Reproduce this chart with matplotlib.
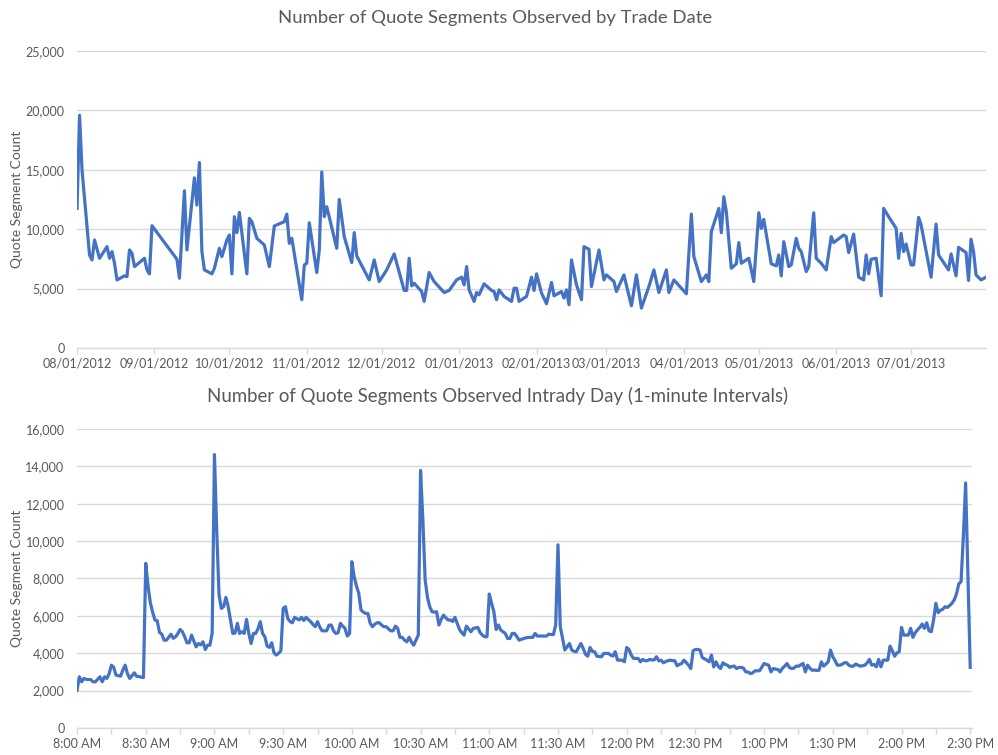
import datetime
import matplotlib
matplotlib.use('Agg')
import matplotlib.pyplot as plt
import matplotlib.dates as mdates
from matplotlib.ticker import FuncFormatter, MultipleLocator

plt.rcParams['font.family'] = ['Lato', 'DejaVu Sans']

# daily series: days since 08/01/2012 and quote segment counts
day_offsets = [
    0, 1, 2, 5, 6, 7, 9, 12, 13, 14, 15, 16, 19, 20, 21, 22, 23, 27, 28, 29,
    30, 40, 41, 43, 44, 47, 48, 49, 50, 51, 54, 55, 57, 58, 60, 61, 62, 63, 64, 65,
    68, 69, 70, 72, 75, 77, 79, 83, 84, 85, 86, 90, 91, 92, 93, 96, 97, 98, 99, 100,
    104, 105, 107, 110, 111, 112, 117, 119, 121, 124, 127, 131, 132, 133, 134, 135, 138, 139, 141, 143,
    147, 149, 152, 154, 155, 156, 157, 159, 160, 161, 163, 166, 167, 168, 169, 171, 174, 175, 176, 177,
    180, 182, 183, 184, 186, 188, 190, 191, 194, 195, 196, 197, 198, 200, 202, 203, 205, 206, 209, 211,
    212, 215, 216, 219, 222, 224, 226, 229, 231, 233, 236, 237, 239, 244, 246, 247, 250, 252, 253, 254,
    257, 258, 259, 260, 262, 264, 265, 266, 269, 271, 273, 274, 275, 278, 280, 281, 282, 283, 285, 286,
    288, 289, 290, 292, 293, 295, 296, 298, 300, 302, 303, 307, 308, 309, 311, 313, 315, 316, 317, 318,
    320, 322, 323, 325, 328, 329, 330, 331, 332, 334, 335, 337, 338, 342, 344, 345, 349, 350, 352, 353,
    356, 357, 358, 359, 360, 362, 364,
]
daily_counts = [
    11750, 19580, 14960, 7830, 7410, 9090, 7550, 8530, 7550, 8110, 7130, 5730, 6070, 6010, 8250, 7970, 6850, 7550, 6570, 6240,
    10290, 7470, 5870, 13230, 8250, 14320, 12030, 15610, 8110, 6570, 6240, 6710, 8390, 7690, 9090, 9510, 6240, 11050, 9710, 11410,
    6240, 10910, 10630, 9230, 8670, 6850, 10270, 10630, 11270, 8810, 9230, 4060, 6990, 7130, 10540, 6350, 8250, 14820, 11050, 11890,
    8390, 12500, 9370, 7190, 9710, 7750, 5730, 7410, 5590, 6570, 7920, 4840, 4840, 7550, 5230, 5450, 4750, 3920, 6350, 5590,
    4670, 4840, 5730, 5960, 5310, 6850, 4890, 3920, 4670, 4480, 5400, 4840, 4750, 4060, 4890, 4340, 3920, 5030, 5030, 3920,
    4340, 5960, 4840, 6240, 4620, 3720, 5510, 4390, 4750, 4200, 4890, 3640, 7410, 5310, 4060, 8530, 8310, 5170, 8250, 5730,
    6150, 5590, 4750, 6150, 3550, 6150, 3360, 5170, 6570, 4670, 6570, 4670, 5730, 4560, 11270, 7690, 5590, 6150, 5590, 9790,
    11750, 9710, 12730, 11470, 6710, 7080, 8870, 7130, 7550, 5590, 11380, 10070, 10820, 7080, 6910, 7830, 6070, 8950, 6850, 6990,
    9230, 8390, 8110, 6430, 6850, 11380, 7550, 7130, 6570, 9370, 8870, 9510, 9370, 8030, 9590, 5960, 5730, 7830, 6240, 7470,
    7550, 4390, 11750, 11050, 10070, 7550, 9650, 8110, 8750, 6990, 6990, 10990, 10350, 5960, 10430, 7830, 6570, 7920, 6070, 8470,
    8030, 5680, 9150, 8110, 6150, 5730, 5960,
]

# intraday series: 1-minute counts from 8:00 AM to 2:30 PM
minute_counts = [
    2020, 2740, 2470, 2650, 2600, 2590, 2590, 2470, 2470, 2600,
    2740, 2470, 2740, 2650, 2900, 3360, 3250, 2830, 2800, 2770,
    3100, 3360, 2910, 2650, 2800, 2950, 2770, 2750, 2720, 2700,
    8810, 7600, 6700, 6200, 5780, 5740, 5110, 5020, 4700, 4700,
    4850, 5020, 4800, 4880, 5050, 5270, 5150, 4880, 4560, 4560,
    4970, 4650, 4340, 4520, 4450, 4610, 4200, 4430, 4430, 5060,
    14630, 10500, 7120, 6400, 6490, 6990, 6490, 5780, 5060, 5080,
    5600, 5060, 5150, 5060, 5810, 5060, 4520, 5060, 5060, 5300,
    5690, 5060, 4880, 4380, 4310, 4560, 4020, 3900, 4000, 4130,
    6400, 6490, 5860, 5700, 5630, 5920, 5850, 5780, 5920, 5750,
    5920, 5800, 5690, 5550, 5420, 5690, 5400, 5200, 5200, 5200,
    5500, 5510, 5200, 5060, 5100, 5600, 5450, 5330, 4920, 5060,
    8900, 8100, 7600, 7210, 6310, 6200, 6130, 6130, 5600, 5420,
    5550, 5630, 5630, 5500, 5420, 5420, 5300, 5200, 5200, 5450,
    5330, 4850, 4850, 4700, 4610, 4850, 4610, 4430, 4700, 4970,
    13780, 11140, 7920, 7000, 6490, 6220, 6200, 6220, 5510, 5800,
    6040, 5900, 5780, 5780, 5700, 5920, 5600, 5270, 5100, 4970,
    5450, 5300, 5150, 5330, 5350, 5380, 5100, 4970, 4880, 4880,
    7170, 6670, 6220, 5270, 5510, 5240, 5150, 5060, 4790, 4790,
    5060, 5060, 4900, 4700, 4750, 4780, 4830, 4840, 4850, 4850,
    5060, 4920, 4920, 4920, 4920, 4920, 5020, 5000, 5000, 5510,
    9800, 5420, 4790, 4170, 4350, 4520, 4170, 4100, 4080, 4300,
    4520, 4260, 3950, 3840, 4310, 4100, 4080, 3840, 3820, 3810,
    3990, 3990, 3990, 3900, 3850, 4080, 3630, 3630, 3630, 3540,
    4310, 4200, 3900, 3720, 3720, 3720, 3540, 3670, 3600, 3600,
    3670, 3640, 3640, 3810, 3590, 3630, 3490, 3550, 3600, 3630,
    3600, 3600, 3330, 3400, 3450, 3630, 3500, 3360, 3180, 4130,
    4200, 4200, 4170, 3770, 3700, 3630, 3540, 3900, 3270, 3540,
    3300, 3180, 3490, 3400, 3360, 3240, 3300, 3310, 3180, 3240,
    3240, 3200, 3000, 3000, 2910, 2950, 3060, 3060, 3060, 3250,
    3450, 3400, 3360, 3000, 3180, 3150, 3130, 3000, 3200, 3310,
    3450, 3240, 3180, 3200, 3310, 3300, 3380, 3450, 3000, 3360,
    3200, 3090, 3100, 3080, 3090, 3540, 3310, 3420, 3540, 4170,
    3810, 3600, 3360, 3360, 3400, 3490, 3490, 3360, 3300, 3310,
    3420, 3360, 3310, 3330, 3360, 3490, 3670, 3360, 3400, 3270,
    3670, 3270, 3630, 3630, 3630, 4380, 4130, 3840, 4020, 4080,
    5380, 4970, 4970, 4970, 5330, 4850, 5100, 5250, 5380, 5560,
    5330, 5630, 5200, 5150, 5780, 6670, 6170, 6300, 6350, 6490,
    6450, 6550, 6670, 6850, 7170, 7710, 7830, 10250, 13110, 8200,
    3240,
]

blue = '#4472C4'
grey_txt = '#595959'
grey_ln = '#D9D9D9'

base = datetime.datetime(2012, 8, 1)
trade_dates = [base + datetime.timedelta(days=d) for d in day_offsets]
open_time = datetime.datetime(2013, 1, 2, 8, 0)
times = [open_time + datetime.timedelta(minutes=i) for i in range(len(minute_counts))]


def style(ax, label_x):
    for s in ['top', 'right', 'left']:
        ax.spines[s].set_visible(False)
    ax.spines['bottom'].set_color(grey_ln)
    ax.spines['bottom'].set_linewidth(1.0)
    ax.grid(axis='y', color=grey_ln, linewidth=1.0, zorder=0)
    ax.set_axisbelow(True)
    ax.tick_params(axis='y', length=0, pad=9, labelsize=9, labelcolor=grey_txt)
    ax.tick_params(axis='x', which='both', length=4, color=grey_ln, width=1.0,
                   labelsize=9, labelcolor=grey_txt, pad=3)
    ax.yaxis.set_major_formatter(FuncFormatter(lambda v, p: '{:,.0f}'.format(v)))
    ax.set_ylabel('Quote Segment Count', color=grey_txt, fontsize=10)
    ax.yaxis.set_label_coords(label_x, 0.5)


fig = plt.figure(figsize=(9.98, 7.55), dpi=100)

ax1 = fig.add_axes([0.0772, 0.5391, 0.9108, 0.3934])
ax1.plot(trade_dates, daily_counts, color=blue, linewidth=2.3, solid_joinstyle='round', zorder=3)
ax1.set_ylim(0, 25000)
ax1.yaxis.set_major_locator(MultipleLocator(5000))
ax1.set_xlim(base, datetime.datetime(2013, 7, 31))
ax1.xaxis.set_major_locator(mdates.MonthLocator())
ax1.xaxis.set_major_formatter(mdates.DateFormatter('%m/%d/%Y'))
style(ax1, -0.059)
fig.text(0.496, 1 - 18 / 755, 'Number of Quote Segments Observed by Trade Date',
         ha='center', va='center', fontsize=13.3, color=grey_txt)

ax2 = fig.add_axes([0.0772, 0.0358, 0.8968, 0.396])
ax2.plot(times, minute_counts, color=blue, linewidth=2.3, solid_joinstyle='round', zorder=3)
ax2.set_ylim(0, 16000)
ax2.yaxis.set_major_locator(MultipleLocator(2000))
ax2.set_xlim(open_time, open_time + datetime.timedelta(minutes=390.8))
ax2.xaxis.set_major_locator(mdates.MinuteLocator(byminute=[0, 30]))
ax2.xaxis.set_minor_locator(mdates.MinuteLocator(byminute=[15, 45]))
ax2.xaxis.set_major_formatter(FuncFormatter(
    lambda v, p: mdates.num2date(v).strftime('%I:%M %p').lstrip('0')))
style(ax2, -0.060)
fig.text(0.499, 1 - 396 / 755, 'Number of Quote Segments Observed Intrady Day (1-minute Intervals)',
         ha='center', va='center', fontsize=13.4, color=grey_txt)

fig.savefig('out.png', dpi=100)
